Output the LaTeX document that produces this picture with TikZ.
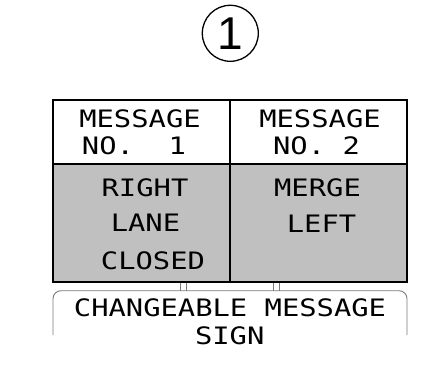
\documentclass[tikz,border=0pt]{standalone}
\usepackage{fontspec}
\newfontfamily\signfont{DejaVu Sans Mono}[FakeStretch=1.2]
\newfontfamily\numfont{Liberation Sans}
\definecolor{panelgray}{HTML}{C0C0C0}
\definecolor{postgray}{HTML}{7A7A7A}
\tikzset{
    signtext/.style={anchor=base, inner sep=0pt, font=\signfont\fontsize{24}{28}\selectfont},
}
\begin{document}
\begin{tikzpicture}[x=1pt, y=-1pt]
        \useasboundingbox (0,0) rectangle (425,382);

        % number in circle
        \node[circle, draw, line width=1.3pt, minimum size=56pt, inner sep=0pt,
              font=\numfont\fontsize{46}{46}\selectfont] (num) at (230.3,33.3) {1};

        % message board
        \fill[panelgray] (53,164) rectangle (407,282);
        \draw[line width=1.6pt] (53,100) rectangle (407,282);
        \draw[line width=1.6pt] (230,100) -- (230,282);
        \draw[line width=1.6pt] (53,164) -- (407,164);

        % posts
        \draw[postgray, line width=0.8pt] (180,283) -- (180,290.7);
        \draw[postgray, line width=0.8pt] (186,283) -- (186,290.7);
        \draw[postgray, line width=0.8pt] (273.3,283) -- (273.3,290.7);
        \draw[postgray, line width=0.8pt] (279.3,283) -- (279.3,290.7);

        % sign frame
        \draw[postgray, line width=0.9pt, rounded corners=8pt] (53,335) -- (53,290.7) -- (407,290.7) -- (407,335);

        \node[signtext] (msgA) at (140,127.3) {MESSAGE};
        \node[signtext] (noA) at (134,155) {NO.\ \ 1};
        \node[signtext] (msgB) at (320,127.3) {MESSAGE};
        \node[signtext] (noB) at (316.5,155) {NO.\ 2};

        \node[signtext] (right) at (145,196.5) {RIGHT};
        \node[signtext] (lane) at (145.5,231.7) {LANE};
        \node[signtext] (closed) at (153,269) {CLOSED};
        \node[signtext] (merge) at (317.5,196.7) {MERGE};
        \node[signtext] (left) at (321.5,232.7) {LEFT};

        \node[signtext] (cms) at (230,316.7) {CHANGEABLE MESSAGE};
        \node[signtext] (sign) at (229.7,344) {SIGN};
    \end{tikzpicture}
\end{document}
